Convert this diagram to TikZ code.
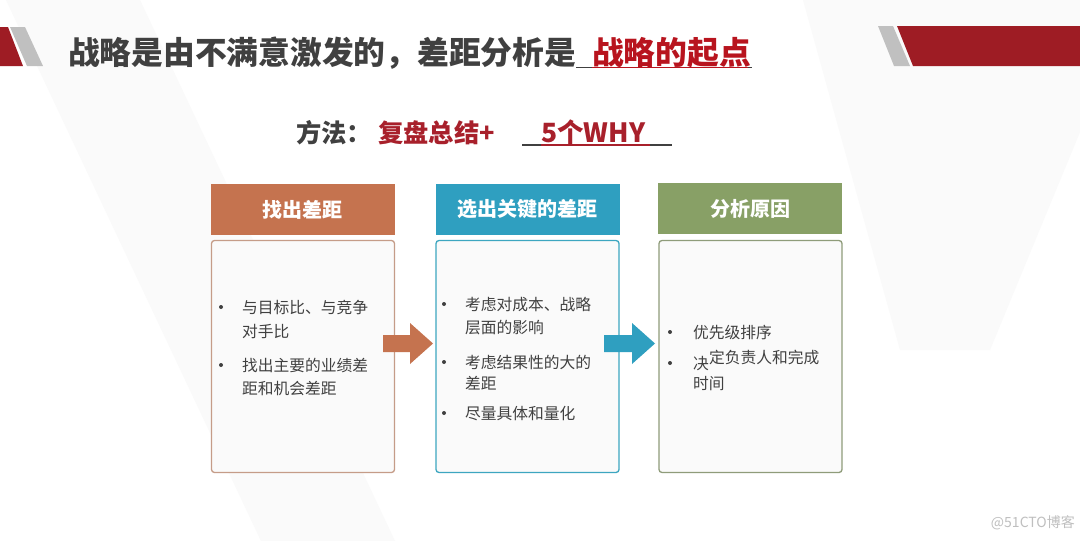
\documentclass[tikz,border=0pt]{standalone}
\usepackage{fontspec}
\setmainfont{Noto Sans CJK SC}
\definecolor{txt}{HTML}{404040}
\definecolor{tred}{HTML}{B8141E}
\definecolor{mred}{HTML}{A8202B}
\definecolor{band}{HTML}{9E1C24}
\definecolor{bandgray}{HTML}{C0C0C0}
\definecolor{hA}{HTML}{C5734F}
\definecolor{hB}{HTML}{2F9FC0}
\definecolor{hC}{HTML}{88A066}
\definecolor{bA}{HTML}{C59C88}
\definecolor{bB}{HTML}{3DA6C0}
\definecolor{bC}{HTML}{8F9C7A}
\definecolor{bodyfill}{HTML}{FAFAFA}
\definecolor{faint}{HTML}{FAFAFA}
\tikzset{
  header/.style={fill=#1, draw=none, minimum width=184pt, minimum height=51pt, inner sep=0pt,
    text=white, font=\fontsize{20}{24}\selectfont\bfseries},
  bodybox/.style={draw=#1, line width=1.3pt, fill=bodyfill, rounded corners=3pt,
    minimum width=183pt, minimum height=232pt, inner sep=0pt},
  btext/.style={anchor=base west, inner sep=0pt, text=txt, font=\fontsize{15.75}{18}\selectfont},
  bul/.style={fill=txt},
}
\begin{document}
\begin{tikzpicture}[x=1pt,y=-1pt]
\useasboundingbox (0,0) rectangle (1080,541);
\fill[white] (0,0) rectangle (1080,541);
% faint background shapes
\fill[faint] (6,0) -- (140,0) -- (395,541) -- (261,541) -- cycle;
\fill[faint] (803,0) -- (1080,0) -- (1080,132) -- (990,350) -- (900,350) -- cycle;
% top bands
\fill[band] (0,27) -- (8,27) -- (23,66) -- (0,66) -- cycle;
\fill[bandgray] (10,27) -- (25,27) -- (43,66) -- (27,66) -- cycle;
\fill[bandgray] (878,26) -- (893,26) -- (910,66) -- (894,66) -- cycle;
\fill[band] (897,26) -- (1080,26) -- (1080,66) -- (913,66) -- cycle;
% title
\node[anchor=base west, inner sep=0pt, text=txt, font=\fontsize{31.75}{36}\selectfont\bfseries] (t1) at (68,64) {战略是由不满意激发的，差距分析是};
\node[anchor=base west, inner sep=0pt, text=tred, font=\fontsize{31.75}{36}\selectfont\bfseries] (t2) at (592,64) {战略的起点};
\draw[txt, line width=1.6pt] (576,67.5) -- (592,67.5);
\draw[tred, line width=1.6pt] (592,67.5) -- (748,67.5);
\draw[txt, line width=1.6pt] (748,67.5) -- (752,67.5);
% method line
\node[anchor=base west, inner sep=0pt, text=txt, font=\fontsize{25.3}{30}\selectfont\bfseries] (m1) at (296,142) {方法：};
\node[anchor=base west, inner sep=0pt, text=mred, font=\fontsize{25.3}{30}\selectfont\bfseries] (m2) at (378,142) {复盘总结+};
\node[anchor=base west, inner sep=0pt, text=mred, font=\fontsize{26.5}{30}\selectfont\bfseries] (m3) at (541,142) {5个WHY};
\draw[txt, line width=1.4pt] (522,145) -- (541,145);
\draw[mred, line width=1.4pt] (541,145) -- (650,145);
\draw[txt, line width=1.4pt] (650,145) -- (672,145);
% headers
\node[header=hA] (hA) at (302.5,209.5) {找出差距};
\node[header=hB] (hB) at (527.5,209.5) {选出关键的差距};
\node[header=hC] (hC) at (750,208.5) {分析原因};
% bodies
\node[bodybox=bA] (bA) at (303,356.5) {};
\node[bodybox=bB] (bB) at (527.5,356.5) {};
\node[bodybox=bC] (bC) at (750.5,356.5) {};
% arrows
\fill[hA] (383,335) -- (410,335) -- (410,323) -- (433,343.5) -- (410,364) -- (410,352) -- (383,352) -- cycle;
\fill[hB] (604,335) -- (632,335) -- (632,323) -- (655,343.5) -- (632,364) -- (632,352) -- (604,352) -- cycle;
% box A text
\fill[bul] (221,307) circle (2);
\fill[bul] (221,365) circle (2);
\node[btext] (a1) at (242,313) {与目标比、与竞争};
\node[btext] (a2) at (242,337) {对手比};
\node[btext] (a3) at (242,371) {找出主要的业绩差};
\node[btext] (a4) at (242,394) {距和机会差距};
% box B text
\fill[bul] (444,304) circle (2);
\fill[bul] (444,362) circle (2);
\fill[bul] (444,413) circle (2);
\node[btext] (b1) at (465,310) {考虑对成本、战略};
\node[btext] (b2) at (465,333) {层面的影响};
\node[btext] (b3) at (465,368) {考虑结果性的大的};
\node[btext] (b4) at (465,389) {差距};
\node[btext] (b5) at (465,419) {尽量具体和量化};
% box C text
\fill[bul] (670,332) circle (2);
\fill[bul] (670,363) circle (2);
\node[btext] (c1) at (693,338) {优先级排序};
\node[btext] (c2a) at (693,369) {决};
\node[btext] (c2) at (709,363) {定负责人和完成};
\node[btext] (c3) at (693,389) {时间};
% watermark
\node[anchor=east, inner sep=0pt, text=black!25, font=\fontsize{14}{16}\selectfont] (wm) at (1075,523) {@51CTO博客};
\end{tikzpicture}
\end{document}
